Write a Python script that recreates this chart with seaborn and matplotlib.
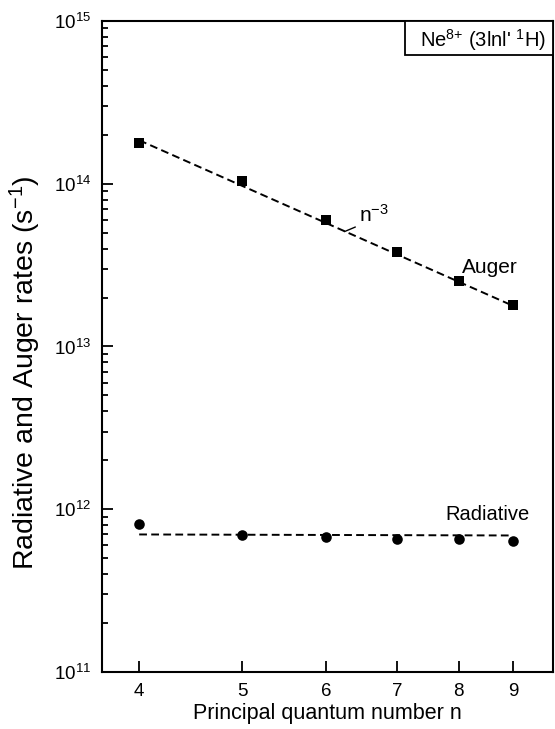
import matplotlib
matplotlib.use("Agg")
import matplotlib.pyplot as plt
import matplotlib.ticker as mticker
from matplotlib.patches import Rectangle
import seaborn as sns
import pandas as pd

# ---- data ----
n_vals = [4, 5, 6, 7, 8, 9]
auger_rates = [1.79e14, 1.04e14, 6.0e13, 3.83e13, 2.51e13, 1.81e13]
radiative_rates = [8.1e11, 6.9e11, 6.76e11, 6.55e11, 6.55e11, 6.4e11]
auger_fit_n = [4, 9]
auger_fit_rates = [1.85e14, 1.78e13]
rad_fit_n = [4, 9]
rad_fit_rates = [7.0e11, 6.9e11]
x_ticks = [4, 5, 6, 7, 8, 9]

sns.set_theme(style="ticks")
plt.rcParams["font.family"] = ["Liberation Sans", "DejaVu Sans"]
plt.rcParams["mathtext.fontset"] = "custom"
plt.rcParams["mathtext.rm"] = "Liberation Sans"
plt.rcParams["mathtext.it"] = "Liberation Sans:italic"
plt.rcParams["mathtext.bf"] = "Liberation Sans:bold"
plt.rcParams["mathtext.default"] = "regular"

fig = plt.figure(figsize=(5.55, 7.29), dpi=100)
ax = fig.add_axes([0.1838, 0.0782, 0.8126, 0.893])

df_a = pd.DataFrame({"n": n_vals, "rate": auger_rates})
df_r = pd.DataFrame({"n": n_vals, "rate": radiative_rates})
df_af = pd.DataFrame({"n": auger_fit_n, "rate": auger_fit_rates})
df_rf = pd.DataFrame({"n": rad_fit_n, "rate": rad_fit_rates})

dash = (0, (4, 2.2))
sns.lineplot(data=df_af, x="n", y="rate", ax=ax, color="black", lw=1.4,
             linestyle=dash, estimator=None, sort=False)
sns.lineplot(data=df_rf, x="n", y="rate", ax=ax, color="black", lw=1.4,
             linestyle=dash, estimator=None, sort=False)
sns.scatterplot(data=df_a, x="n", y="rate", ax=ax, marker="s", s=52,
                color="black", edgecolor="black", linewidth=0, zorder=3)
sns.scatterplot(data=df_r, x="n", y="rate", ax=ax, marker="o", s=58,
                color="black", edgecolor="black", linewidth=0, zorder=3)

ax.set_xscale("log")
ax.set_yscale("log")
ax.set_xlim(3.69, 9.82)
ax.set_ylim(1e11, 1e15)

ax.xaxis.set_major_locator(mticker.FixedLocator(x_ticks))
ax.xaxis.set_major_formatter(mticker.FixedFormatter([str(v) for v in x_ticks]))
ax.xaxis.set_minor_locator(mticker.NullLocator())
ax.yaxis.set_major_locator(mticker.LogLocator(base=10, numticks=10))
ax.yaxis.set_minor_locator(mticker.LogLocator(base=10, subs=range(2, 10), numticks=20))
ax.yaxis.set_minor_formatter(mticker.NullFormatter())

ax.tick_params(which="both", direction="in", colors="black", width=1.3,
               top=False, right=False)
ax.tick_params(axis="y", which="major", length=8, labelsize=13.5, pad=8)
ax.tick_params(axis="y", which="minor", length=4.5)
ax.tick_params(axis="x", which="major", length=8, labelsize=13.5, pad=8)

for sp in ax.spines.values():
    sp.set_visible(True)
    sp.set_linewidth(1.5)
    sp.set_color("black")

ax.set_xlabel("Principal quantum number n", fontsize=15.5, color="black", labelpad=2)
ax.set_ylabel("Radiative and Auger rates (s$^{-1}$)", fontsize=20.5, color="black")
ax.yaxis.set_label_coords(-0.13, 0.46)

ax.text(8.06, 2.84e13, "Auger", fontsize=15, color="black", va="baseline", ha="left")
ax.text(7.78, 8.57e11, "Radiative", fontsize=14.5, color="black", va="baseline", ha="left")
ax.annotate("n$^{-3}$", xy=(6.245, 5.08e13), xytext=(6.44, 5.85e13),
            fontsize=15, color="black", va="baseline", ha="left",
            arrowprops=dict(arrowstyle="-", color="black", lw=1.0,
                            shrinkA=0, shrinkB=0, relpos=(0, 0)))

ax.add_patch(Rectangle((0.672, 0.948), 0.328, 0.052, transform=ax.transAxes,
                       facecolor="white", edgecolor="black", lw=1.3,
                       clip_on=False, zorder=5))
ax.text(0.844, 0.960, "Ne$^{8{+}}$ (3lnl' $^{1}$H)", transform=ax.transAxes,
        fontsize=14.5, color="black", ha="center", va="baseline", zorder=6)

fig.savefig("out.png", dpi=100)
